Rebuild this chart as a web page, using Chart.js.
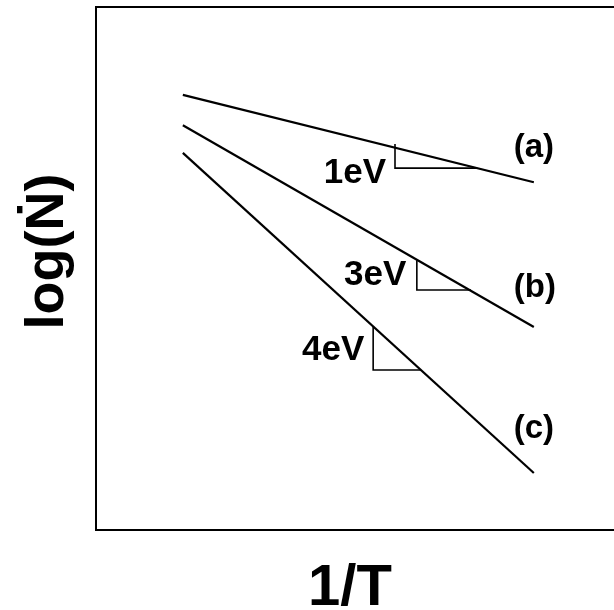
<!DOCTYPE html>
<html>
<head>
<meta charset="utf-8">
<title>log(N) vs 1/T</title>
<script src="https://cdn.jsdelivr.net/npm/chart.js@4.4.1/dist/chart.umd.min.js"></script>
<style>
  html, body { margin: 0; padding: 0; background: #fff; overflow: hidden; }
  #wrap { width: 614px; height: 610px; overflow: hidden; }
  canvas { display: block; }
</style>
</head>
<body>
<div id="wrap"><canvas id="arr-chart" width="620" height="610"></canvas></div>
<script>
/* ════════════════════════════════════════
   DATA  (arbitrary units)
════════════════════════════════════════ */
var X_RANGE = [0, 100];
var Y_RANGE = [0, 100];

// straight Arrhenius lines: start / end
var LINE_X  = [16.7, 84.2];
var LINE_A  = [83.2, 66.5];
var LINE_B  = [77.4, 38.8];
var LINE_C  = [72.1, 10.9];

// slope triangles: top of vertical leg, corner, end on the line
var TRI_1EV_X = [57.5, 57.5, 73.3];
var TRI_1EV_Y = [73.8, 69.2, 69.2];
var TRI_3EV_X = [61.7, 61.7, 72.1];
var TRI_3EV_Y = [51.6, 45.9, 45.9];
var TRI_4EV_X = [53.3, 53.3, 62.5];
var TRI_4EV_Y = [39.0, 30.6, 30.6];

// in-plot labels
var ENERGY_LABELS = ['1eV', '3eV', '4eV'];
var ENERGY_X      = [49.8, 53.7, 45.6];
var ENERGY_Y      = [66.3, 46.8, 32.5];
var CURVE_LABELS  = ['(a)', '(b)', '(c)'];
var CURVE_X       = [84.2, 84.4, 84.2];
var CURVE_Y       = [71.3, 44.6, 17.6];

var X_TITLE = '1/T';
var Y_TITLE = 'log(\u1E44)';

/* ════════════════════════════════════════
   HELPERS
════════════════════════════════════════ */
function _pts(xs, ys) {
  return xs.map(function(x, i) { return { x: x, y: ys[i] }; });
}

function _lineSet(xs, ys, w) {
  return {
    data: _pts(xs, ys), showLine: true, fill: false,
    borderColor: '#000', borderWidth: w, pointRadius: 0,
    tension: 0, borderCapStyle: 'butt', borderJoinStyle: 'miter'
  };
}

var FONT = '"Liberation Sans", Arial, Helvetica, sans-serif';

// frame, labels and axis titles
var annotatePlugin = {
  id: 'annotate',
  afterDraw: function(chart) {
    var ctx = chart.ctx, ca = chart.chartArea;
    var xs = chart.scales.x, ys = chart.scales.y;
    ctx.save();
    ctx.strokeStyle = '#000';
    ctx.lineWidth = 2;
    ctx.strokeRect(ca.left, ca.top, ca.right - ca.left, ca.bottom - ca.top);

    ctx.fillStyle = '#000';
    ctx.textAlign = 'center';
    ctx.textBaseline = 'alphabetic';
    ctx.font = 'bold 35px ' + FONT;
    ENERGY_LABELS.forEach(function(t, i) {
      ctx.fillText(t, xs.getPixelForValue(ENERGY_X[i]), ys.getPixelForValue(ENERGY_Y[i]));
    });
    ctx.font = 'bold 33px ' + FONT;
    CURVE_LABELS.forEach(function(t, i) {
      ctx.fillText(t, xs.getPixelForValue(CURVE_X[i]), ys.getPixelForValue(CURVE_Y[i]));
    });

    // x title
    ctx.font = 'bold 58px ' + FONT;
    ctx.fillText(X_TITLE, 350, 605);

    // y title, rotated
    ctx.translate(63, (ca.top + ca.bottom) / 2 - 17);
    ctx.rotate(-Math.PI / 2);
    ctx.font = 'bold 54px ' + FONT;
    ctx.fillText(Y_TITLE, 0, 0);
    ctx.restore();
  }
};

/* ════════════════════════════════════════
   CHART
════════════════════════════════════════ */
new Chart(document.getElementById('arr-chart').getContext('2d'), {
  type: 'scatter',
  data: {
    datasets: [
      _lineSet(LINE_X, LINE_A, 2.2),
      _lineSet(LINE_X, LINE_B, 2.2),
      _lineSet(LINE_X, LINE_C, 2.2),
      _lineSet(TRI_1EV_X, TRI_1EV_Y, 1.6),
      _lineSet(TRI_3EV_X, TRI_3EV_Y, 1.6),
      _lineSet(TRI_4EV_X, TRI_4EV_Y, 1.6)
    ]
  },
  options: {
    responsive: false, animation: false, devicePixelRatio: 1,
    layout: { padding: { left: 96, top: 7, right: 4, bottom: 80 } },
    plugins: { legend: { display: false }, tooltip: { enabled: false } },
    scales: {
      x: { type: 'linear', min: X_RANGE[0], max: X_RANGE[1], display: false },
      y: { type: 'linear', min: Y_RANGE[0], max: Y_RANGE[1], display: false }
    }
  },
  plugins: [annotatePlugin]
});
</script>
</body>
</html>
